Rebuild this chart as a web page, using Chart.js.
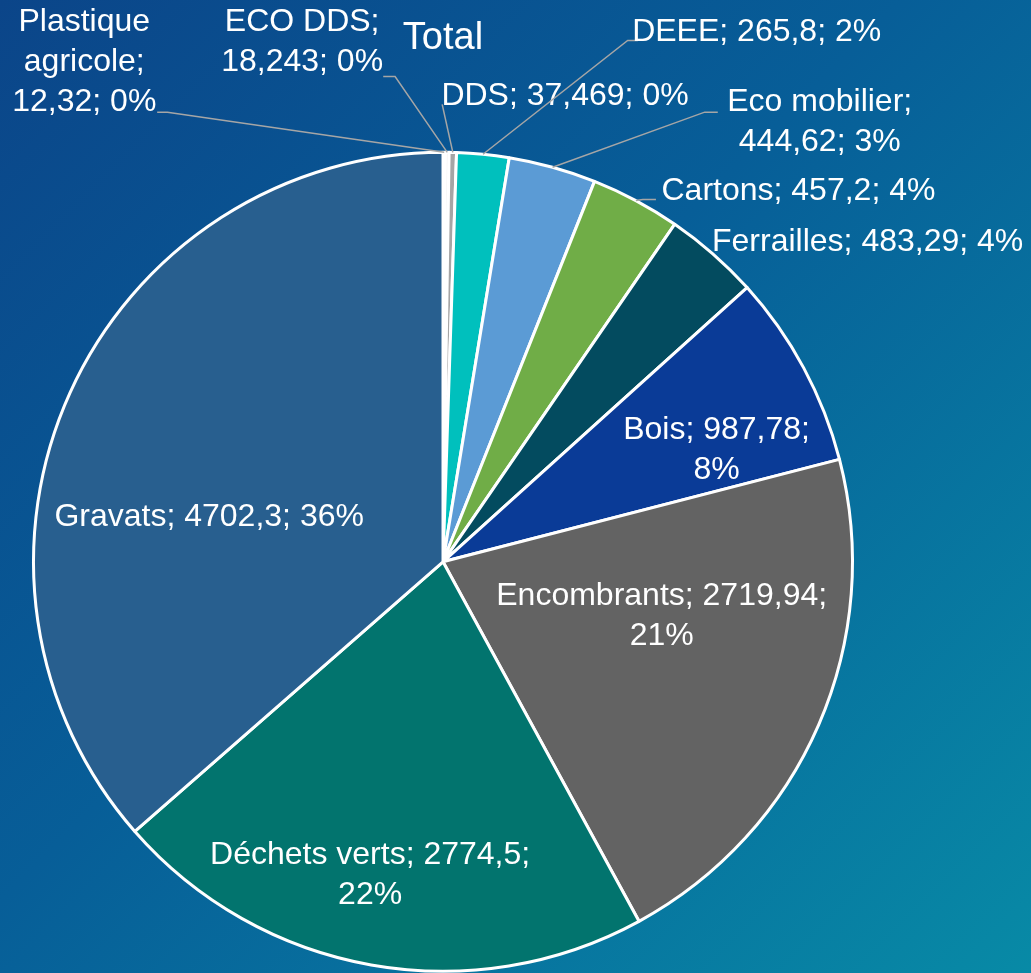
<!DOCTYPE html>
<html>
<head>
<meta charset="utf-8">
<script src="https://cdn.jsdelivr.net/npm/chart.js@4.4.0/dist/chart.umd.min.js"></script>
<style>
  html, body { margin: 0; padding: 0; }
  body {
    width: 1031px; height: 973px; overflow: hidden;
    background: linear-gradient(135deg, #0b4589 0%, #075e98 45%, #088aa6 100%);
  }
  canvas { display: block; }
</style>
</head>
<body>
<canvas id="chart" width="1031" height="973"></canvas>
<script>
const categories = [
  "Plastique agricole", "ECO DDS", "DDS", "DEEE", "Eco mobilier", "Cartons",
  "Ferrailles", "Bois", "Encombrants", "Déchets verts", "Gravats"
];
const values = [12.32, 18.243, 37.469, 265.8, 444.62, 457.2, 483.29, 987.78, 2719.94, 2774.5, 4702.3];
const colors = [
  "#ffffff", "#e7e6e6", "#a5a5a5", "#00c0bd", "#5b9bd5", "#70ad47",
  "#034b5f", "#0a3b97", "#636363", "#02746e", "#285f8f"
];

// label text centre, relative to the pie centre, in radii
const labelPos = [
  [-0.876, -1.220], [-0.344, -1.268], [0.298, -1.137], [0.766, -1.293],
  [0.920, -1.073], [0.868, -0.905], [1.037, -0.780], [0.668, -0.273],
  [0.534, 0.132], [-0.178, 0.766], [-0.571, -0.110]
];
// max line width before wrapping (px)
const labelWrap = [160, 180, 0, 0, 230, 0, 0, 210, 350, 350, 0];
// leader line: [elbow x, elbow y, end x] in radii, or null
const leaders = [
  [-0.673, -1.098, -0.698], [-0.117, -1.185, -0.146], [-0.002, -1.117, -0.002],
  [0.451, -1.273, 0.476], [0.639, -1.098, 0.671], [0.488, -0.885, 0.520],
  null, null, null, null, null
];

const total = values.reduce((a, b) => a + b, 0);
const FAMILY = "'Liberation Sans', Arial, sans-serif";
const FONT = "32px " + FAMILY;

function labelText(i) {
  const pct = Math.round(values[i] / total * 100);
  return categories[i] + "; " + String(values[i]).replace(".", ",") + "; " + pct + "%";
}

function wrap(ctx, text, maxW) {
  if (!maxW) return [text];
  const words = text.split(" ");
  const lines = [];
  let cur = "";
  words.forEach((w) => {
    const test = cur ? cur + " " + w : w;
    if (cur && ctx.measureText(test).width > maxW) {
      lines.push(cur);
      cur = w;
    } else {
      cur = test;
    }
  });
  if (cur) lines.push(cur);
  return lines;
}

const pieLabels = {
  id: "pieLabels",
  afterDatasetsDraw(chart) {
    const ctx = chart.ctx;
    const arcs = chart.getDatasetMeta(0).data;
    ctx.save();
    ctx.font = FONT;
    ctx.fillStyle = "#ffffff";
    ctx.textAlign = "center";
    ctx.textBaseline = "middle";
    arcs.forEach((arc, i) => {
      const { x, y, outerRadius, startAngle, endAngle } = arc.getProps(
        ["x", "y", "outerRadius", "startAngle", "endAngle"], true);
      const r = outerRadius;
      const ld = leaders[i];
      if (ld) {
        const mid = (startAngle + endAngle) / 2;
        ctx.strokeStyle = "#a6a6a6";
        ctx.lineWidth = 1.5;
        ctx.beginPath();
        ctx.moveTo(x + Math.cos(mid) * r, y + Math.sin(mid) * r);
        ctx.lineTo(x + ld[0] * r, y + ld[1] * r);
        ctx.lineTo(x + ld[2] * r, y + ld[1] * r);
        ctx.stroke();
      }
      const lines = wrap(ctx, labelText(i), labelWrap[i]);
      const lh = 40;
      const cx = x + labelPos[i][0] * r;
      const cy = y + labelPos[i][1] * r - (lines.length - 1) * lh / 2;
      lines.forEach((ln, k) => ctx.fillText(ln, cx, cy + k * lh));
    });
    ctx.restore();
  }
};

new Chart(document.getElementById("chart"), {
  type: "pie",
  data: {
    labels: categories,
    datasets: [{
      data: values,
      backgroundColor: colors,
      borderColor: "#ffffff",
      borderWidth: 3
    }]
  },
  options: {
    responsive: false,
    animation: false,
    layout: { padding: { left: 32, right: 177, top: 0, bottom: 0 } },
    plugins: {
      legend: { display: false },
      tooltip: { enabled: false },
      title: {
        display: true,
        text: "Total",
        color: "#ffffff",
        font: { family: FAMILY, size: 38, weight: "normal" },
        padding: { top: 16, bottom: 89 }
      }
    }
  },
  plugins: [pieLabels]
});
</script>
</body>
</html>
